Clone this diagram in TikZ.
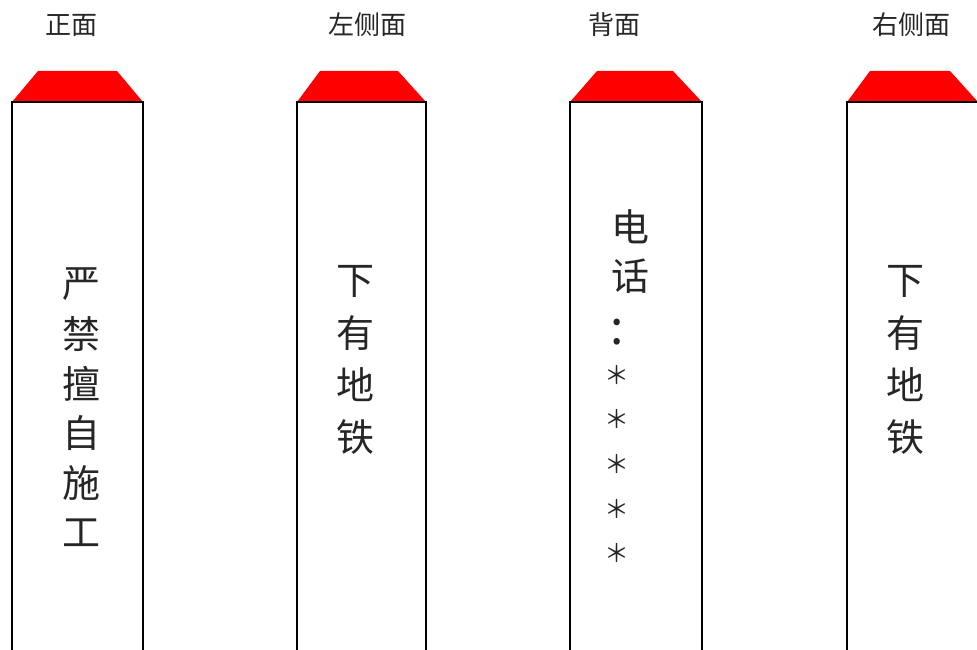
\documentclass[tikz,border=0pt]{standalone}
\usepackage{fontspec}
\newfontfamily\cjk{Noto Sans CJK SC}
\begin{document}
\begin{tikzpicture}[x=1pt,y=-1pt,
  post/.style={draw=black,line width=1.3pt},
  capfill/.style={fill=red,draw=none},
  title/.style={font=\cjk\fontsize{26}{26}\selectfont,inner sep=0pt,text=black!85},
  vch/.style={font=\cjk\fontsize{38}{38}\selectfont,inner sep=0pt,text=black!85},
  star/.style={font=\cjk\fontsize{25}{25}\selectfont,inner sep=0pt,anchor=north,text=black!85}]
\useasboundingbox (0,0) rectangle (977,650);
\fill[white] (0,0) rectangle (977,650);
\begin{scope}
\clip (0,0) rectangle (977,650);
\foreach \l/\r/\tl/\tr in {12/143/38/117, 297/426/320/398, 570/702/597/673, 847/978/870/950}{
  \fill[capfill] (\l,102) -- (\tl,71) -- (\tr,71) -- (\r,102) -- cycle;
  \draw[post] (\l,652) -- (\l,102) -- (\r,102) -- (\r,652);
}
\end{scope}
% titles
\node[title] (t1) at (71,25) {正面};
\node[title] (t2) at (367,25) {左侧面};
\node[title] (t3) at (614,25) {背面};
\node[title] (t4) at (911,25) {右侧面};
% post 1
\foreach \c [count=\i] in {严,禁,擅,自,施,工}{
  \node[vch] (a\i) at (81,{284+49.8*(\i-1)}) {\c};
}
% post 2 and 4
\foreach \c [count=\i] in {下,有,地,铁}{
  \node[vch] (b\i) at (355,{281+52*(\i-1)}) {\c};
  \node[vch] (d\i) at (905,{281+52*(\i-1)}) {\c};
}
% post 3
\node[vch] (c1) at (630,227) {电};
\node[vch] (c2) at (630,276) {话};
\node[font=\cjk\fontsize{48}{48}\selectfont,inner sep=0pt,text=black!85] (c3) at (617,332) {:};
\foreach \y [count=\i] in {365,409,454,499,543}{
  \node[star] (s\i) at (617,\y) {＊};
}
\end{tikzpicture}
\end{document}
